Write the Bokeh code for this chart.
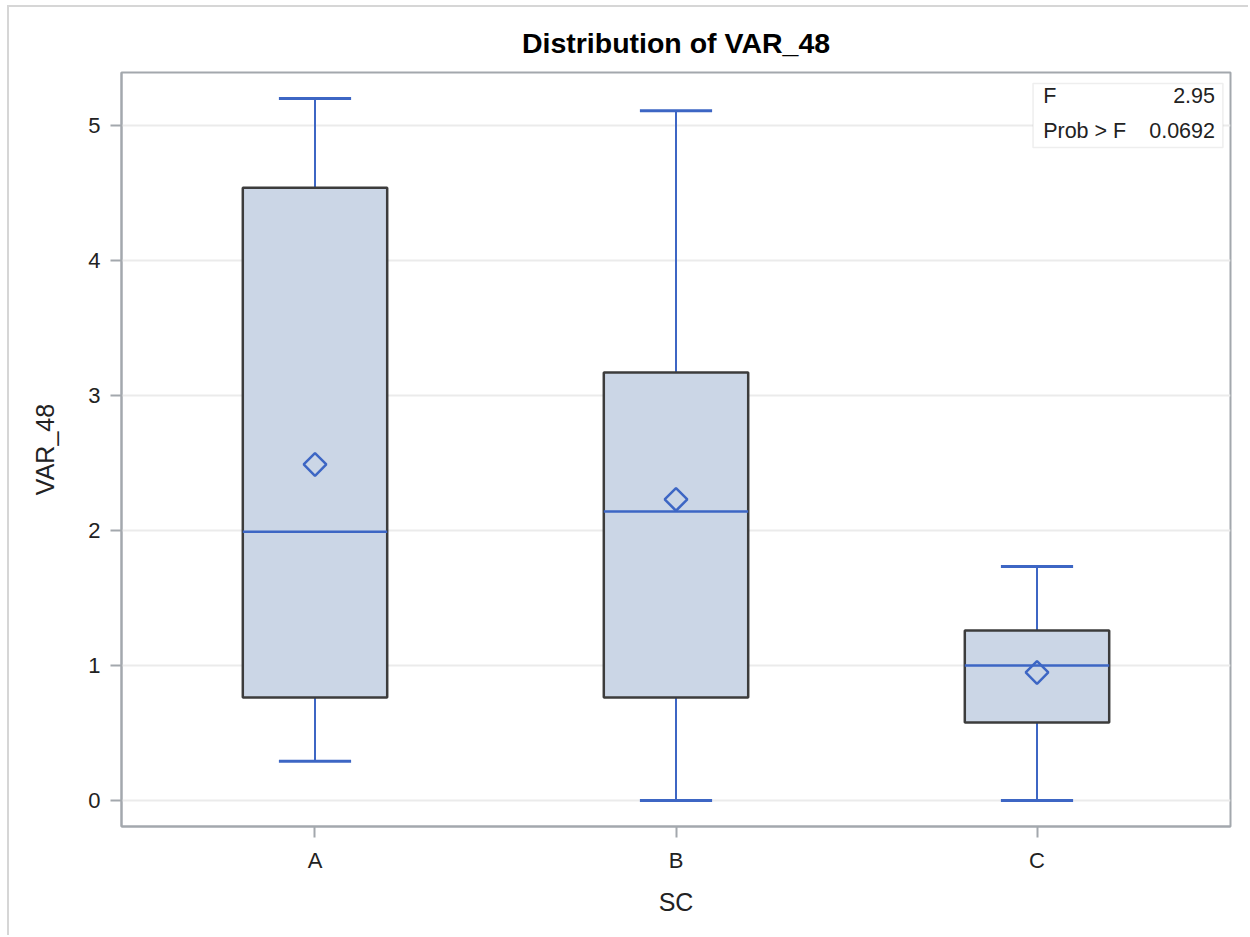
from bokeh.plotting import figure
from bokeh.models import FactorRange, Range1d, FixedTicker, Label, BoxAnnotation
from bokeh.embed import file_html
from bokeh.resources import INLINE

# ---- data ----
groups = ["A", "B", "C"]
whisker_low = [0.29, 0.0, 0.0]
q1 = [0.763, 0.763, 0.578]
median = [1.99, 2.14, 1.0]
q3 = [4.54, 3.17, 1.259]
whisker_high = [5.20, 5.11, 1.733]
mean = [2.489, 2.23, 0.948]
y_ticks = [0, 1, 2, 3, 4, 5]
f_value = "2.95"
prob_f = "0.0692"

FONT = "Liberation Sans"
BLUE = "#3d66c4"
FILL = "#cbd6e6"
EDGE = "#3c3c3c"
AXIS = "#a3a8ad"

y0, y1 = -0.193, 5.393

p = figure(
    width=1241, height=930,
    x_range=FactorRange(factors=groups, range_padding=0.024, range_padding_units="percent"),
    y_range=Range1d(y0, y1),
    output_backend="svg", toolbar_location=None,
    min_border_left=112, min_border_right=20, min_border_top=65, min_border_bottom=111,
    title="Distribution of VAR_48",
    margin=(5, 0, 0, 7),
    styles={"border-top": "2px solid #d6d6d6", "border-left": "2px solid #d6d6d6"},
)

p.title.align = "center"
p.title.text_font = FONT
p.title.text_font_size = "28.5px"
p.title.text_font_style = "bold"
p.title.text_color = "#000000"
p.title.standoff = 28

p.outline_line_color = AXIS
p.outline_line_width = 2
p.background_fill_color = "white"
p.border_fill_color = "white"

p.xgrid.grid_line_color = None
p.ygrid.grid_line_color = "#ebebeb"
p.ygrid.grid_line_width = 2

p.yaxis.ticker = FixedTicker(ticks=y_ticks)
p.yaxis.minor_tick_line_color = None
for ax in (p.xaxis[0], p.yaxis[0]):
    ax.axis_line_color = AXIS
    ax.axis_line_width = 2
    ax.major_tick_line_color = AXIS
    ax.major_tick_line_width = 2
    ax.major_tick_in = 0
    ax.major_tick_out = 11
    ax.major_label_text_font = FONT
    ax.major_label_text_font_size = "22px"
    ax.major_label_text_color = "#222222"
    ax.axis_label_text_font = FONT
    ax.axis_label_text_font_size = "25px"
    ax.axis_label_text_font_style = "normal"
    ax.axis_label_text_color = "#222222"
    ax.major_label_standoff = 10

p.xaxis.axis_label = "SC"
p.yaxis.axis_label = "VAR_48"
p.yaxis.axis_label_standoff = 26
p.xaxis.axis_label_standoff = 12

# whiskers
p.segment(x0=groups, y0=whisker_low, x1=groups, y1=q1, line_color=BLUE, line_width=2)
p.segment(x0=groups, y0=q3, x1=groups, y1=whisker_high, line_color=BLUE, line_width=2)
# caps
p.rect(x=groups, y=whisker_low, width=0.2, height=3, height_units="screen",
       fill_color=BLUE, line_color=None)
p.rect(x=groups, y=whisker_high, width=0.2, height=3, height_units="screen",
       fill_color=BLUE, line_color=None)
# boxes
p.vbar(x=groups, bottom=q1, top=q3, width=0.4, fill_color=FILL, line_color=EDGE, line_width=2.5)
# median
p.rect(x=groups, y=median, width=0.4, height=2.5, height_units="screen",
       fill_color=BLUE, line_color=None)
# mean
p.scatter(x=groups, y=mean, marker="square", angle=0.785398, size=16,
          fill_color=None, line_color=BLUE, line_width=2.5)

# inset statistics table (positions in data units; category A sits at 0.5)
p.add_layout(BoxAnnotation(left=2.489, right=3.015, bottom=4.837, top=5.311,
                           fill_color="white", fill_alpha=1.0,
                           line_color="#c8c8c8", line_width=1.5))
for txt, x, y, align in [("F", 2.517, 5.222, "left"), (f_value, 2.993, 5.222, "right"),
                         ("Prob > F", 2.517, 4.963, "left"), (prob_f, 2.993, 4.963, "right")]:
    p.add_layout(Label(x=x, y=y, text=txt, text_font=FONT, text_font_size="21.5px",
                       text_color="#222222", text_align=align, text_baseline="middle"))

open("out.html", "w").write(file_html(p, INLINE))
